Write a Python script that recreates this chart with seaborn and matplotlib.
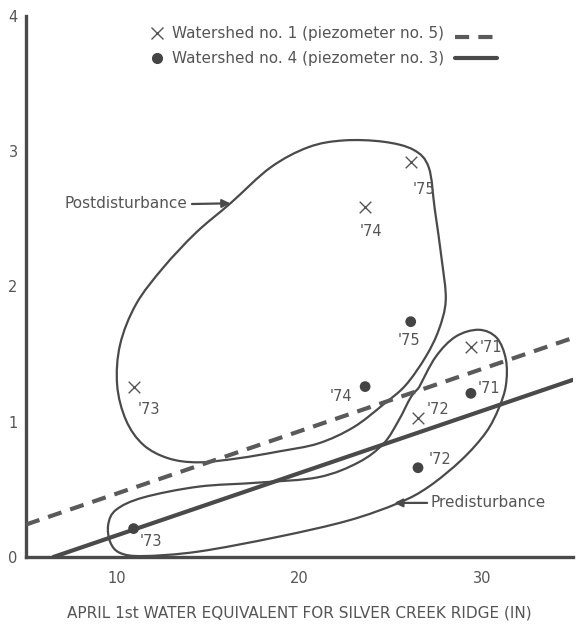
import numpy as np
import pandas as pd
import matplotlib
matplotlib.use("Agg")
import matplotlib.pyplot as plt
from matplotlib.path import Path
from matplotlib.patches import PathPatch
import seaborn as sns

# ---------------- data ----------------
years = ["'71", "'72", "'73", "'74", "'75"]
snow_we = [29.4, 26.5, 10.9, 23.6, 26.1]            # April 1st water equivalent (in)
ws1_level = [1.55, 1.03, 1.26, 2.585, 2.92]         # Watershed no. 1 (piezometer no. 5)
ws4_level = [1.21, 0.66, 0.21, 1.26, 1.74]          # Watershed no. 4 (piezometer no. 3)

# fitted lines (end points, data units)
ws1_line_x = [5.0, 35.0]
ws1_line_y = [0.24, 1.62]
ws4_line_x = [6.5, 35.0]
ws4_line_y = [0.0, 1.31]

# hand-drawn envelopes (data units)
post_x = [16.21, 18.41, 20.49, 22.42, 24.62, 26.26, 27.09, 27.42, 27.80, 28.02,
          27.64, 26.92, 25.82, 24.62, 22.97, 21.04, 18.85, 16.65, 14.45, 12.80,
          11.43, 10.49, 10.00, 10.16, 11.04, 12.53, 14.34]
post_y = [2.615, 2.88, 3.03, 3.08, 3.07, 3.01, 2.88, 2.57, 2.20, 1.90,
          1.68, 1.48, 1.27, 1.13, 0.96, 0.84, 0.78, 0.73, 0.70, 0.73,
          0.83, 1.01, 1.27, 1.57, 1.87, 2.14, 2.40]
pre_x = [26.54, 27.47, 28.57, 29.84, 30.82, 31.32, 31.32, 30.93, 30.22, 28.90,
         27.09, 25.44, 22.69, 18.85, 14.45, 11.43, 10.16, 9.62, 9.51, 9.95,
         11.43, 14.45, 17.75, 21.04, 23.24, 24.62, 25.44, 26.10, 26.54]
pre_y = [1.25, 1.48, 1.63, 1.68, 1.62, 1.46, 1.27, 1.10, 0.92, 0.72,
         0.52, 0.40, 0.27, 0.15, 0.04, 0.007, 0.03, 0.11, 0.24, 0.35,
         0.44, 0.52, 0.55, 0.59, 0.70, 0.84, 1.01, 1.18, 1.25]

x_ticks = [10, 20, 30]
y_ticks = [0, 1, 2, 3, 4]
legend_labels = ["Watershed no. 1 (piezometer no. 5)", "Watershed no. 4 (piezometer no. 3)"]
x_label = "APRIL 1st WATER EQUIVALENT FOR SILVER CREEK RIDGE (IN)"

# ---------------- style ----------------
INK = "#4a4a4a"
TXT = "#555555"
sns.set_style("white")
plt.rcParams["font.family"] = ["DejaVu Sans"]

fig = plt.figure(figsize=(5.76, 6.3), dpi=100)
ax = fig.add_axes([26 / 576, 73 / 630, 547 / 576, 541 / 630])
ax.set_xlim(5, 35)
ax.set_ylim(0, 4)

def smooth_path(xs, ys, closed=True):
    P = np.column_stack([xs, ys]).astype(float)
    n = len(P)
    verts = [P[0]]
    codes = [Path.MOVETO]
    segs = n if closed else n - 1
    for i in range(segs):
        if closed:
            p0, p1, p2, p3 = P[(i - 1) % n], P[i], P[(i + 1) % n], P[(i + 2) % n]
        else:
            p0 = P[max(i - 1, 0)]
            p1, p2 = P[i], P[i + 1]
            p3 = P[min(i + 2, n - 1)]
        c1 = p1 + (p2 - p0) / 6.0
        c2 = p2 - (p3 - p1) / 6.0
        verts += [c1, c2, p2]
        codes += [Path.CURVE4] * 3
    return Path(verts, codes)

ax.add_patch(PathPatch(smooth_path(post_x, post_y, True), fill=False, ec=INK, lw=1.6, zorder=2))
ax.add_patch(PathPatch(smooth_path(pre_x, pre_y, False), fill=False, ec=INK, lw=1.6, zorder=2))

# fitted lines
sns.lineplot(x=ws1_line_x, y=ws1_line_y, ax=ax, color="#5a5a5a", lw=3.0,
             linestyle=(0, (3.4, 2.2)), zorder=3)
sns.lineplot(x=ws4_line_x, y=ws4_line_y, ax=ax, color="#4a4a4a", lw=3.0, zorder=3)

# points
df = pd.DataFrame({"year": years, "we": snow_we, "ws1": ws1_level, "ws4": ws4_level})
sns.scatterplot(data=df, x="we", y="ws1", ax=ax, marker="x", s=70, color=TXT,
                linewidth=1.0, zorder=4)
sns.scatterplot(data=df, x="we", y="ws4", ax=ax, marker="o", s=60, color="#444444",
                edgecolor="none", zorder=4)

ws1_offsets = {"'71": (20, 0), "'72": (20, 8), "'73": (15, -23), "'74": (6, -24), "'75": (13, -27)}
ws4_offsets = {"'71": (18, 5), "'72": (22, 8), "'73": (17, -13), "'74": (-24, -10), "'75": (-2, -19)}
for yr, xv, y1, y4 in zip(years, snow_we, ws1_level, ws4_level):
    ax.annotate(yr, (xv, y1), xytext=ws1_offsets[yr], textcoords="offset pixels",
                ha="center", va="center", fontsize=10.5, color=TXT)
    ax.annotate(yr, (xv, y4), xytext=ws4_offsets[yr], textcoords="offset pixels",
                ha="center", va="center", fontsize=10.5, color=TXT)

# envelope labels
ax.annotate("", xy=(post_x[0], post_y[0]), xytext=(14.1, 2.61),
            arrowprops=dict(arrowstyle="-|>", color=INK, lw=1.6, mutation_scale=12,
                            shrinkA=0, shrinkB=0))
ax.text(13.85, 2.615, "Postdisturbance", ha="right", va="center", fontsize=11, color=TXT)
ax.annotate("", xy=(25.2, 0.40), xytext=(27.0, 0.40),
            arrowprops=dict(arrowstyle="-|>", color=INK, lw=1.6, mutation_scale=12,
                            shrinkA=0, shrinkB=0))
ax.text(27.2, 0.40, "Predisturbance", ha="left", va="center", fontsize=11, color=TXT)

# legend (manual, marker left, line sample right)
ax.plot([0.2395], [0.968], transform=ax.transAxes, marker="x", ms=8, mew=1.0,
        color=TXT, ls="none", clip_on=False)
ax.text(0.267, 0.968, legend_labels[0], transform=ax.transAxes, ha="left", va="center",
        fontsize=11, color=TXT)
ax.plot([0.784, 0.861], [0.962, 0.962], transform=ax.transAxes, color="#5a5a5a", lw=3.0,
        linestyle=(0, (3.4, 2.2)), clip_on=False)
ax.plot([0.2395], [0.922], transform=ax.transAxes, marker="o", ms=7, color="#444444",
        ls="none", clip_on=False)
ax.text(0.267, 0.922, legend_labels[1], transform=ax.transAxes, ha="left", va="center",
        fontsize=11, color=TXT)
ax.plot([0.784, 0.861], [0.922, 0.922], transform=ax.transAxes, color="#4a4a4a", lw=3.0,
        clip_on=False)

# axes styling
for side in ["top", "right"]:
    ax.spines[side].set_visible(False)
for side in ["left", "bottom"]:
    ax.spines[side].set_color(INK)
    ax.spines[side].set_linewidth(2.4)
ax.set_xticks(x_ticks)
ax.set_yticks(y_ticks)
ax.set_xticks([15, 25, 35], minor=True)
ax.set_yticks([0.5, 1.5, 2.5, 3.5], minor=True)
ax.tick_params(which="major", direction="in", length=9, width=1.0, color=INK,
               labelsize=10.5, labelcolor=TXT, pad=10)
ax.tick_params(which="minor", direction="in", length=4, width=1.0, color=INK)
ax.tick_params(axis="y", which="major", pad=6)
ax.set_xlabel(x_label, fontsize=11, color=TXT, labelpad=14)
ax.set_ylabel("")

fig.savefig("out.png", dpi=100)
